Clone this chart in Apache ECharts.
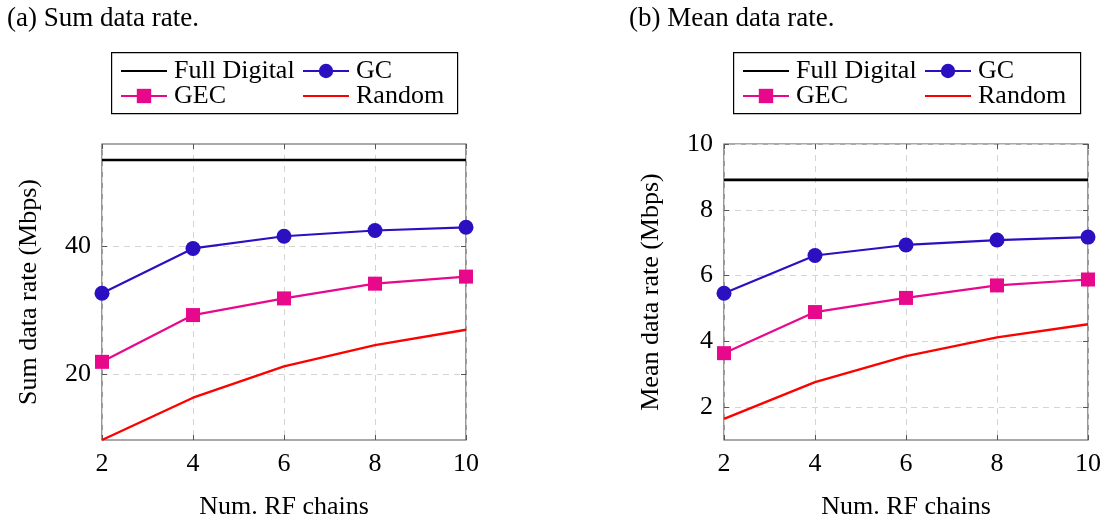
<!DOCTYPE html>
<html>
<head>
<meta charset="utf-8">
<style>
  html, body { margin: 0; padding: 0; background: #fff; }
  #chart { width: 1111px; height: 525px; }
</style>
<script src="https://cdn.jsdelivr.net/npm/echarts@6/dist/echarts.min.js"></script>
</head>
<body>
<div id="chart"></div>
<script>
// Number of RF chains (x axis of both panels)
const rfChains = [2, 4, 6, 8, 10];

// (a) Sum data rate, Mbps
const sumFullDigital = [53.5, 53.5, 53.5, 53.5, 53.5];
const sumGC = [32.7, 39.7, 41.6, 42.5, 43.0];
const sumGEC = [22.0, 29.3, 31.9, 34.2, 35.3];
const sumRandom = [9.8, 16.4, 21.3, 24.6, 27.0];
const sumTicks = [20, 40];

// (b) Mean data rate, Mbps
const meanFullDigital = [8.91, 8.91, 8.91, 8.91, 8.91];
const meanGC = [5.46, 6.61, 6.93, 7.08, 7.17];
const meanGEC = [3.64, 4.89, 5.32, 5.70, 5.88];
const meanRandom = [1.64, 2.76, 3.55, 4.12, 4.52];
const meanTicks = [2, 4, 6, 8, 10];

const FONT = 'Liberation Serif';
const COLORS = { full: '#000000', gc: '#2b10c2', gec: '#e8088c', random: '#ff0000' };

const pair = (ys) => rfChains.map((x, i) => [x, ys[i]]);

const panels = [
  { left: 102, yName: 'Sum data rate (Mbps)', min: 9.8, max: 56, ticks: sumTicks,
    data: [sumFullDigital, sumGC, sumGEC, sumRandom] },
  { left: 724, yName: 'Mean data rate (Mbps)', min: 1, max: 10, ticks: meanTicks,
    data: [meanFullDigital, meanGC, meanGEC, meanRandom] }
];

const grid = [], xAxis = [], yAxis = [], series = [];

const tickStyle = { show: true, inside: true, length: 5, lineStyle: { color: '#555', width: 1 } };
const gridLine = { show: true, lineStyle: { color: '#d4d4d4', type: [6, 5], width: 1 } };

panels.forEach((p, g) => {
  grid.push({ left: p.left, top: 144, width: 364, height: 303, show: true,
    borderColor: '#555', borderWidth: 1.2, backgroundColor: 'transparent' });

  // bottom axis with labels and grid lines
  xAxis.push({
    type: 'value', gridIndex: g, min: 2, max: 10, interval: 2,
    name: 'Num. RF chains', nameLocation: 'middle', nameGap: 54,
    nameTextStyle: { fontFamily: FONT, fontSize: 26, color: '#000' },
    axisLine: { show: false }, axisTick: tickStyle, splitLine: gridLine,
    axisLabel: { fontFamily: FONT, fontSize: 26, color: '#000', margin: 11 }
  });
  // top axis: mirrored ticks only
  xAxis.push({
    type: 'value', gridIndex: g, position: 'top', min: 2, max: 10, interval: 2,
    axisLine: { show: false }, axisTick: tickStyle, splitLine: { show: false },
    axisLabel: { show: false }
  });

  // left axis with labels and grid lines
  yAxis.push({
    type: 'value', gridIndex: g, min: p.min, max: p.max,
    name: p.yName, nameLocation: 'middle', nameGap: 60, nameRotate: 90,
    nameTextStyle: { fontFamily: FONT, fontSize: 26, color: '#000' },
    axisLine: { show: false },
    axisTick: Object.assign({ customValues: p.ticks }, tickStyle),
    splitLine: gridLine,
    axisLabel: { customValues: p.ticks, fontFamily: FONT, fontSize: 26, color: '#000', margin: 11 }
  });
  // right axis: mirrored ticks only
  yAxis.push({
    type: 'value', gridIndex: g, position: 'right', min: p.min, max: p.max,
    axisLine: { show: false },
    axisTick: Object.assign({ customValues: p.ticks }, tickStyle),
    splitLine: { show: false }, axisLabel: { show: false }
  });

  const xi = g * 2, yi = g * 2;
  const [full, gc, gec, rnd] = p.data;
  series.push(
    { name: 'Full Digital', type: 'line', xAxisIndex: xi, yAxisIndex: yi, data: pair(full),
      symbol: 'none', lineStyle: { color: COLORS.full, width: 2.6 }, itemStyle: { color: COLORS.full }, z: 3 },
    { name: 'GC', type: 'line', xAxisIndex: xi, yAxisIndex: yi, data: pair(gc),
      symbol: 'circle', symbolSize: 15, lineStyle: { color: COLORS.gc, width: 2.2 },
      itemStyle: { color: COLORS.gc }, z: 4 },
    { name: 'GEC', type: 'line', xAxisIndex: xi, yAxisIndex: yi, data: pair(gec),
      symbol: 'rect', symbolSize: 14, lineStyle: { color: COLORS.gec, width: 2.2 },
      itemStyle: { color: COLORS.gec }, z: 4 },
    { name: 'Random', type: 'line', xAxisIndex: xi, yAxisIndex: yi, data: pair(rnd),
      symbol: 'none', lineStyle: { color: COLORS.random, width: 2.4 }, itemStyle: { color: COLORS.random }, z: 3 }
  );
});

// One legend component per entry, laid out in a 2x2 block above each panel
const legendBoxes = [{ x: 111, w: 346 }, { x: 733, w: 347 }];
const legend = [];
const entries = [
  { name: 'Full Digital', col: 0, row: 0, marker: false },
  { name: 'GC', col: 1, row: 0, marker: true },
  { name: 'GEC', col: 0, row: 1, marker: true },
  { name: 'Random', col: 1, row: 1, marker: false }
];
legendBoxes.forEach((b) => {
  entries.forEach((e) => {
    const item = e.marker ? { name: e.name } : { name: e.name, itemStyle: { opacity: 0 } };
    legend.push({
      data: [item], left: b.x + 9 + e.col * 182, top: 58 + e.row * 25,
      orient: 'horizontal', padding: 0, itemWidth: 46, itemHeight: 18, itemGap: 0,
      selectedMode: false,
      textStyle: { fontFamily: FONT, fontSize: 26, color: '#000', padding: [0, 0, 0, 2] }
    });
  });
});

const graphic = [
  ...legendBoxes.map((b) => ({
    type: 'rect', left: b.x, top: 52, z: 0,
    shape: { width: b.w, height: 61 },
    style: { fill: '#fff', stroke: '#000', lineWidth: 1.2 }
  })),
  { type: 'text', left: 7, top: 5, style: { text: '(a) Sum data rate.', font: '27px "Liberation Serif"', fill: '#000' } },
  { type: 'text', left: 629, top: 5, style: { text: '(b) Mean data rate.', font: '27px "Liberation Serif"', fill: '#000' } }
];

const chart = echarts.init(document.getElementById('chart'), null, { renderer: 'canvas' });
chart.setOption({
  animation: false,
  backgroundColor: '#fff',
  grid, xAxis, yAxis, series, legend, graphic
});
</script>
</body>
</html>
